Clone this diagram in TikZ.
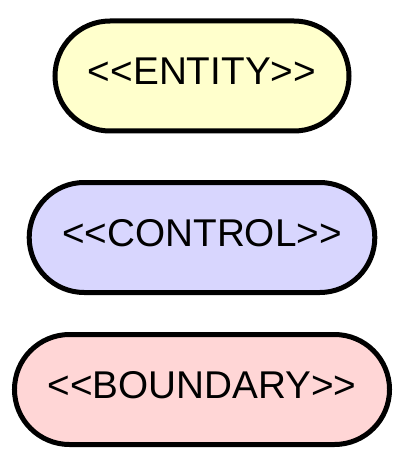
\documentclass[tikz,border=0pt]{standalone}
\usepackage{fontspec}
\newfontfamily\umlfont{Liberation Sans}
\usepackage{tikz}
\usetikzlibrary{positioning}
\definecolor{UmlEntity}{HTML}{FFFFCC}
\definecolor{UmlControl}{HTML}{D8D6FE}
\definecolor{UmlBoundary}{HTML}{FFD6D6}
\definecolor{UmlInk}{HTML}{000000}

\begin{document}
\begin{tikzpicture}[x=1pt,y=-1pt,
  stereo/.style={draw=UmlInk,line width=5pt,rounded corners=55pt,
    minimum height=110pt,inner xsep=33pt,inner ysep=0pt,
    text height=28pt,text depth=10pt,
    font=\umlfont\fontsize{38.7}{46}\selectfont}]
  \useasboundingbox[fill=white] (0,0) rectangle (415,465);
  \foreach \nm/\lab/\col/\y in {entity/ENTITY/UmlEntity/76,
      control/CONTROL/UmlControl/237.5,boundary/BOUNDARY/UmlBoundary/389.5}
    \node[stereo,fill=\col] (\nm) at (202,\y) {<<\lab>>};
\end{tikzpicture}
\end{document}
